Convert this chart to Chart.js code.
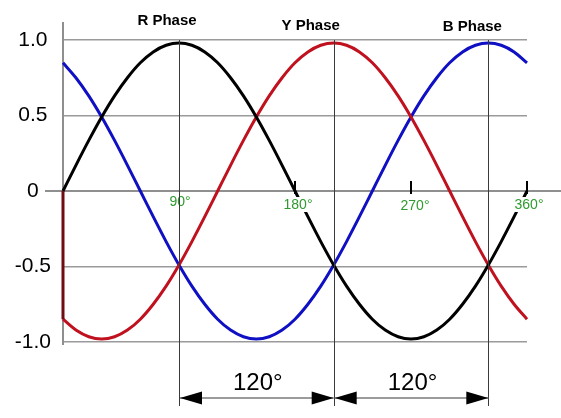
<!DOCTYPE html>
<html>
<head>
<meta charset="utf-8">
<script src="https://cdn.jsdelivr.net/npm/chart.js@4/dist/chart.umd.min.js"></script>
<style>
  html, body { margin: 0; padding: 0; background: #ffffff; }
  #wrap { width: 561px; height: 418px; position: relative; }
</style>
</head>
<body>
<div id="wrap"><canvas id="c" width="561" height="418"></canvas></div>
<script>
// ---- data ----
const angles = [0,10,20,30,40,50,60,70,80,90,100,110,120,130,140,150,160,170,180,
  190,200,210,220,230,240,250,260,270,280,290,300,310,320,330,340,350,360];
const rPhase = [0,0.17,0.335,0.49,0.63,0.75,0.849,0.921,0.965,0.98,0.965,0.921,0.849,0.75,0.63,0.49,0.335,0.17,0,
  -0.17,-0.335,-0.49,-0.63,-0.75,-0.849,-0.921,-0.965,-0.98,-0.965,-0.921,-0.849,-0.75,-0.63,-0.49,-0.335,-0.17,0];
const yPhase = [-0.849,-0.921,-0.965,-0.98,-0.965,-0.921,-0.849,-0.75,-0.63,-0.49,-0.335,-0.17,0,0.17,0.335,0.49,0.63,0.75,0.849,
  0.921,0.965,0.98,0.965,0.921,0.849,0.75,0.63,0.49,0.335,0.17,0,-0.17,-0.335,-0.49,-0.63,-0.75,-0.849];
const bPhase = [0.849,0.75,0.63,0.49,0.335,0.17,0,-0.17,-0.335,-0.49,-0.63,-0.75,-0.849,-0.921,-0.965,-0.98,-0.965,-0.921,-0.849,
  -0.75,-0.63,-0.49,-0.335,-0.17,0,0.17,0.335,0.49,0.63,0.75,0.849,0.921,0.965,0.98,0.965,0.921,0.849];
const startSegment = [0, -0.849];           // Y phase start drop at 0°
const yTicks = [1.0, 0.5, 0, -0.5, -1.0];
const yTickLabels = ['1.0', '0.5', '0', '-0.5', '-1.0'];
const degreeTicks = [90, 180, 270, 360];
const degreeLabels = ['90°', '180°', '270°', '360°'];
const peakAngles = [90, 210, 330];
const phaseNames = ['R Phase', 'Y Phase', 'B Phase'];
const spans = [[90, 210], [210, 330]];
const spanLabels = ['120°', '120°'];

const toPts = (arr) => arr.map((v, i) => ({x: angles[i], y: v}));

function seg(ctx, x1, y1, x2, y2) {
  ctx.beginPath(); ctx.moveTo(x1, y1); ctx.lineTo(x2, y2); ctx.stroke();
}

const overlay = {
  id: 'overlay',
  beforeDatasetsDraw(chart) {
    const {ctx, scales: {x, y}} = chart;
    const y0 = y.getPixelForValue(0);
    const xl = x.getPixelForValue(0);
    ctx.save();
    ctx.strokeStyle = '#8f8f8f';
    ctx.lineWidth = 2;
    seg(ctx, 45, y0, 561, y0);
    seg(ctx, xl, 22, xl, y.getPixelForValue(-1) + 3);
    ctx.restore();
  },
  afterDatasetsDraw(chart) {
    const {ctx, scales: {x, y}} = chart;
    const y0 = y.getPixelForValue(0);
    ctx.save();
    // degree tick marks
    ctx.strokeStyle = '#000';
    ctx.lineWidth = 2;
    degreeTicks.forEach((d, i) => {
      if (i === 0) return;
      const px = x.getPixelForValue(d);
      seg(ctx, px, y0 - 10, px, y0 + 3);
    });
    // degree labels (green, white background)
    ctx.font = '14px "Liberation Sans", Arial, sans-serif';
    ctx.textAlign = 'center';
    ctx.textBaseline = 'alphabetic';
    const lblDy = [15, 18, 19, 18];
    const lblDx = [1, 3, 4, 2];
    degreeTicks.forEach((d, i) => {
      const px = x.getPixelForValue(d) + lblDx[i];
      const by = y0 + lblDy[i];
      const w = ctx.measureText(degreeLabels[i]).width;
      if (i > 0) {
        ctx.fillStyle = '#ffffff';
        ctx.fillRect(px - w / 2 - 1, by - 12, w + 2, 15);
      }
      ctx.fillStyle = '#2f9a2f';
      ctx.fillText(degreeLabels[i], px, by);
    });
    // vertical marker lines at peaks
    ctx.strokeStyle = '#3a3a3a';
    ctx.lineWidth = 1;
    peakAngles.forEach(a => {
      const px = Math.round(x.getPixelForValue(a)) + 0.5;
      seg(ctx, px, y.getPixelForValue(1), px, 406);
    });
    // phase titles
    ctx.fillStyle = '#000';
    ctx.font = 'bold 15px "Liberation Sans", Arial, sans-serif';
    const tdx = [-12, -23, -16];
    const tby = [25, 30, 31];
    peakAngles.forEach((a, i) => {
      ctx.fillText(phaseNames[i], x.getPixelForValue(a) + tdx[i], tby[i]);
    });
    // span arrows
    const ay = 398;
    spans.forEach((s, i) => {
      const a = x.getPixelForValue(s[0]) + 1;
      const b = x.getPixelForValue(s[1]);
      ctx.strokeStyle = '#7a7a7a';
      ctx.lineWidth = 1.5;
      seg(ctx, a, ay, b, ay);
      ctx.fillStyle = '#000';
      ctx.beginPath();
      ctx.moveTo(a, ay); ctx.lineTo(a + 22, ay - 6.5); ctx.lineTo(a + 22, ay + 6.5); ctx.closePath(); ctx.fill();
      ctx.beginPath();
      ctx.moveTo(b, ay); ctx.lineTo(b - 22, ay - 6.5); ctx.lineTo(b - 22, ay + 6.5); ctx.closePath(); ctx.fill();
      ctx.font = '24px "Liberation Sans", Arial, sans-serif';
      ctx.fillStyle = '#000';
      ctx.fillText(spanLabels[i], (a + b) / 2 + 1, 390);
    });
    ctx.restore();
  }
};

new Chart(document.getElementById('c'), {
  type: 'line',
  data: {
    datasets: [
      { label: 'Y start', data: [{x: 0, y: startSegment[0]}, {x: 0, y: startSegment[1]}],
        borderColor: '#6e0d12', borderWidth: 3, pointRadius: 0, tension: 0, clip: false },
      { label: 'R Phase', data: toPts(rPhase), borderColor: '#000000', borderWidth: 3,
        pointRadius: 0, cubicInterpolationMode: 'monotone', clip: 3 },
      { label: 'Y Phase', data: toPts(yPhase), borderColor: '#c0111f', borderWidth: 3,
        pointRadius: 0, cubicInterpolationMode: 'monotone', clip: 3 },
      { label: 'B Phase', data: toPts(bPhase), borderColor: '#0f0fc4', borderWidth: 3,
        pointRadius: 0, cubicInterpolationMode: 'monotone', clip: 3 }
    ]
  },
  options: {
    responsive: false,
    animation: false,
    devicePixelRatio: 1,
    layout: { padding: { left: 0, right: 34, top: 40, bottom: 76 } },
    plugins: { legend: { display: false }, tooltip: { enabled: false } },
    scales: {
      x: { type: 'linear', min: 0, max: 360, display: false },
      y: {
        type: 'linear', min: -1, max: 1,
        afterFit(s) { s.width = 63; },
        afterBuildTicks(s) { s.ticks = yTicks.map(v => ({value: v})); },
        border: { display: false },
        grid: {
          drawTicks: false,
          lineWidth: 1.5,
          color: (c) => (c.tick && c.tick.value === 0) ? 'rgba(0,0,0,0)' : '#9a9a9a'
        },
        ticks: {
          padding: 12,
          crossAlign: 'center',
          color: '#000',
          font: { family: '"Liberation Sans", Arial, sans-serif', size: 21 },
          callback: (v) => yTickLabels[yTicks.indexOf(v)]
        }
      }
    }
  },
  plugins: [overlay]
});
</script>
</body>
</html>
